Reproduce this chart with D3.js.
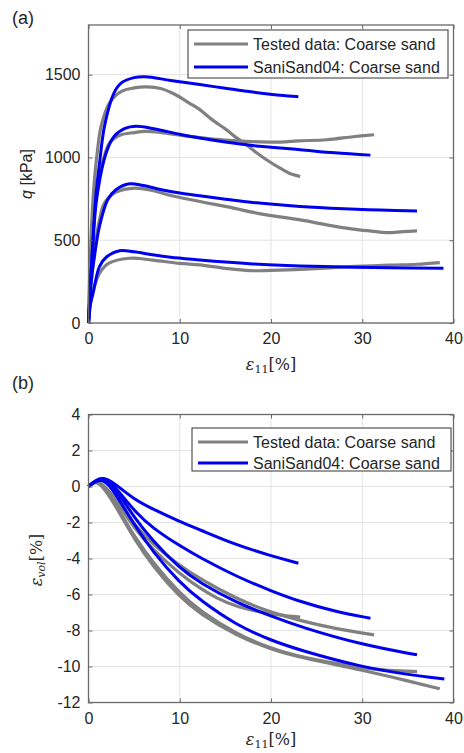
<!DOCTYPE html>
<html>
<head>
<meta charset="utf-8">
<script src="https://cdn.jsdelivr.net/npm/d3@7"></script>
<style>
  body { margin: 0; background: #fff; }
  text { font-family: "Liberation Sans", Arial, sans-serif; fill: #262626; }
</style>
</head>
<body>
<script>
// ---- data: [eps11 %, value] ----
var xTicks = [0, 10, 20, 30, 40];
var qTicks = [0, 500, 1000, 1500];
var volTicks = [-12, -10, -8, -6, -4, -2, 0, 2, 4];
var legendLabels = ["Tested data: Coarse sand", "SaniSand04: Coarse sand"];

// (a) deviatoric stress q [kPa]
var qTest1 = [[0,0],[0.2,400],[0.54,784],[1.0,1050],[1.38,1188],[2.3,1329],[3.6,1399],[5,1420],[6.4,1426],[8,1415],[9.5,1380],[11,1330],[12.2,1289],[13.5,1230],[15.1,1168],[16.3,1115],[17.3,1077],[18.5,1025],[19.5,986],[21,935],[22,905],[23.2,885]];
var qTest2 = [[0,0],[0.3,400],[0.7,700],[1.38,925],[2.3,1087],[3.5,1135],[5,1150],[6.2,1157],[8,1150],[10,1135],[12.2,1120],[15,1105],[17.3,1097],[21,1093],[23,1100],[26.1,1107],[29,1125],[31.3,1137]];
var qTest3 = [[0,0],[0.3,250],[0.7,450],[1.2,623],[1.75,724],[3,790],[5.1,815],[7,800],[9,770],[12.2,734],[15.9,694],[17,680],[19.5,653],[23.2,623],[26.1,593],[29,567],[31,555],[32.7,546],[34.5,552],[36,556]];
var qTest4 = [[0,0],[0.2,110],[0.44,180],[1.2,300],[2.2,360],[4.5,391],[7,380],[10,360],[12.2,351],[15,330],[17.7,316],[20,318],[23.2,324],[26,332],[28.6,341],[33,350],[36,355],[38.5,365]];

var qModel1 = [[0,0],[0.4,420],[0.83,784],[1.2,960],[1.75,1188],[2.8,1390],[3.6,1450],[5,1482],[6.2,1488],[9,1465],[12.2,1440],[15,1418],[18,1395],[21,1376],[23,1367]];
var qModel2 = [[0,0],[0.4,400],[0.9,750],[1.93,1027],[2.8,1127],[4,1175],[5.2,1188],[7,1175],[10,1140],[12.2,1117],[15,1093],[18,1072],[20,1062],[23.2,1047],[27,1028],[30.9,1014]];
var qModel3 = [[0,0],[0.3,250],[0.6,381],[1.2,583],[2.1,744],[3,805],[4.5,841],[6,830],[8,805],[10,785],[12.2,768],[15,748],[18,728],[23.2,704],[28,690],[32,682],[36,677]];
var qModel4 = [[0,0],[0.2,110],[0.5,180],[1.2,341],[2,400],[3.4,437],[5,430],[7,412],[9,397],[12.2,381],[15,368],[18,357],[23.2,345],[28,338],[33,334],[38.9,331]];

// (b) volumetric strain [%]
var volTest1 = [[0,0],[0.7,0.33],[1.5,0.15],[2.5,-0.45],[3.5,-1.15],[5,-2.3],[7,-3.5],[10,-4.85],[12.2,-5.65],[14,-6.2],[16.2,-6.7],[20,-7.1],[23.2,-7.26]];
var volTest2 = [[0,0],[0.7,0.33],[1.5,0.15],[2.5,-0.4],[3.5,-1.05],[5,-2.1],[7,-3.2],[10,-4.4],[12.2,-5.13],[16.2,-6.24],[20,-7.0],[23.2,-7.45],[27,-7.9],[31.3,-8.24]];
var volTest3 = [[0,0],[0.7,0.33],[1.5,0.1],[2.5,-0.6],[3.5,-1.45],[5,-2.75],[7,-4.2],[10,-5.95],[12.2,-6.9],[16.2,-8.2],[20,-9.0],[23.2,-9.48],[30,-10.1],[33,-10.22],[36,-10.28]];
var volTest4 = [[0,0],[0.7,0.3],[1.5,0.05],[2.5,-0.7],[3.5,-1.55],[5,-2.9],[7,-4.4],[10,-6.15],[12.2,-7.07],[16.2,-8.28],[20,-9.05],[23.2,-9.5],[30,-10.2],[35,-10.8],[38.5,-11.24]];

var volModel1 = [[0,0],[0.8,0.35],[1.6,0.5],[2.5,0.3],[3.5,-0.1],[5,-0.7],[7,-1.25],[10,-1.95],[12.2,-2.4],[15.9,-3.2],[20,-3.85],[23,-4.26]];
var volModel2 = [[0,0],[0.8,0.35],[1.6,0.5],[2.5,0.2],[3.5,-0.4],[5.2,-1.45],[7,-2.3],[10,-3.3],[12.2,-3.95],[16.2,-5.0],[20,-5.8],[23.2,-6.4],[27,-6.95],[30.9,-7.32]];
var volModel3 = [[0,0],[0.8,0.3],[1.5,0.45],[2.5,0.1],[3.5,-0.55],[5,-1.7],[7,-3.0],[10,-4.55],[12.2,-5.35],[16.2,-6.45],[20,-7.2],[23.2,-7.8],[30,-8.8],[36,-9.35]];
var volModel4 = [[0,0],[0.8,0.3],[1.5,0.4],[2.5,-0.05],[3.5,-0.85],[5,-2.1],[7,-3.6],[10,-5.35],[12.2,-6.3],[16.2,-7.7],[20,-8.55],[23.2,-9.1],[30,-10.04],[35,-10.45],[39,-10.7]];

var grey = "#808080", blue = "#0000ee";

var W = 464, H = 753;
var svg = d3.select("body").append("svg")
    .attr("width", W)
    .attr("height", H);

var axL = 88.5, axR = 453.5; // shared x extent of both axes

/*
  draws one boxed MATLAB-style panel
  p: {top, bottom, yDomain, yTicks, tests, models, legend box, label}
*/
var drawPanel = function(p){
    var x = d3.scaleLinear().domain([0, 40]).range([axL, axR]);
    var y = d3.scaleLinear().domain(p.yDomain).range([p.bottom, p.top]);
    var g = svg.append("g");

    // grid
    g.selectAll(".gx").data(xTicks).enter().append("line")
        .attr("x1", function(d){ return x(d); }).attr("x2", function(d){ return x(d); })
        .attr("y1", p.top).attr("y2", p.bottom)
        .attr("stroke", "#e3e3e3").attr("stroke-width", 1);
    g.selectAll(".gy").data(p.yTicks).enter().append("line")
        .attr("x1", axL).attr("x2", axR)
        .attr("y1", function(d){ return y(d); }).attr("y2", function(d){ return y(d); })
        .attr("stroke", "#e3e3e3").attr("stroke-width", 1);

    // curves
    var line = d3.line()
        .x(function(d){ return x(d[0]); })
        .y(function(d){ return y(d[1]); })
        .curve(p.curve);
    p.tests.forEach(function(s){
        g.append("path").attr("d", line(s)).attr("fill", "none")
            .attr("stroke", grey).attr("stroke-width", 3.2).attr("stroke-linejoin", "round");
    });
    p.models.forEach(function(s){
        g.append("path").attr("d", line(s)).attr("fill", "none")
            .attr("stroke", blue).attr("stroke-width", 3).attr("stroke-linejoin", "round");
    });

    // box + inner ticks on all sides
    var axisCol = "#6a6a6a";
    g.append("rect").attr("x", axL).attr("y", p.top)
        .attr("width", axR - axL).attr("height", p.bottom - p.top)
        .attr("fill", "none").attr("stroke", axisCol).attr("stroke-width", 1.3);
    var fmt = function(d){ return String(d); };
    var bottomAx = d3.axisBottom(x).tickValues(xTicks).tickFormat(fmt).tickSizeInner(-4).tickSizeOuter(0).tickPadding(10);
    var topAx = d3.axisTop(x).tickValues(xTicks).tickSizeInner(-4).tickSizeOuter(0).tickFormat("");
    var leftAx = d3.axisLeft(y).tickValues(p.yTicks).tickFormat(fmt).tickSizeInner(-4).tickSizeOuter(0).tickPadding(8);
    var rightAx = d3.axisRight(y).tickValues(p.yTicks).tickSizeInner(-4).tickSizeOuter(0).tickFormat("");
    [[bottomAx, "translate(0," + p.bottom + ")"], [topAx, "translate(0," + p.top + ")"],
     [leftAx, "translate(" + axL + ",0)"], [rightAx, "translate(" + axR + ",0)"]].forEach(function(a){
        var ag = g.append("g").attr("transform", a[1]).call(a[0]);
        ag.select(".domain").remove();
        ag.selectAll(".tick line").attr("stroke", axisCol);
        ag.selectAll("text").attr("font-size", 16)
            .attr("font-family", "'Liberation Sans', Arial, sans-serif").attr("fill", "#262626");
    });

    // x label: eps_11[%]
    var xl = g.append("text").attr("x", (axL + axR) / 2).attr("y", p.xLabelY)
        .attr("text-anchor", "middle")
        .style("font-family", "'DejaVu Serif', 'Liberation Serif', serif").attr("font-size", 16);
    xl.append("tspan").text("\u03b5").attr("font-style", "italic");
    xl.append("tspan").text("11").attr("font-size", 11).attr("dy", 3);
    xl.append("tspan").text("[%]").attr("dy", -3);

    // panel letter
    svg.append("text").attr("x", 12).attr("y", p.letterY)
        .attr("font-size", 18).text(p.letter);

    // legend
    var lg = svg.append("g");
    lg.append("rect").attr("x", p.leg[0]).attr("y", p.leg[1])
        .attr("width", p.leg[2]).attr("height", p.leg[3])
        .attr("fill", "#fff").attr("stroke", "#333").attr("stroke-width", 1);
    [grey, blue].forEach(function(c, i){
        var ry = p.legRows[i];
        lg.append("line").attr("x1", p.leg[0] + 6).attr("x2", 248)
            .attr("y1", ry).attr("y2", ry)
            .attr("stroke", c).attr("stroke-width", 3.2);
        lg.append("text").attr("x", 253).attr("y", ry).attr("dy", "0.36em")
            .attr("font-size", 16).text(legendLabels[i]);
    });
    return {x: x, y: y};
};

drawPanel({
    top: 25, bottom: 323, yDomain: [0, 1800], yTicks: qTicks,
    tests: [qTest1, qTest2, qTest3, qTest4],
    models: [qModel1, qModel2, qModel3, qModel4],
    curve: d3.curveCatmullRom.alpha(0.5),
    leg: [188, 30, 260, 48], legRows: [44, 67],
    xLabelY: 370, letter: "(a)", letterY: 24
});

drawPanel({
    top: 414.5, bottom: 702.5, yDomain: [-12, 4], yTicks: volTicks,
    tests: [volTest1, volTest2, volTest3, volTest4],
    models: [volModel1, volModel2, volModel3, volModel4],
    curve: d3.curveBasis,
    leg: [192, 428, 259, 43], legRows: [442, 463],
    xLabelY: 745, letter: "(b)", letterY: 389
});

// y labels
var yl1 = svg.append("text")
    .attr("transform", "translate(32,174) rotate(-90)")
    .attr("text-anchor", "middle").attr("font-size", 16);
yl1.append("tspan").text("q").attr("font-style", "italic");
yl1.append("tspan").text(" [kPa]");

var yl2 = svg.append("text")
    .attr("transform", "translate(42,560) rotate(-90)")
    .attr("text-anchor", "middle")
    .style("font-family", "'DejaVu Serif', 'Liberation Serif', serif").attr("font-size", 16);
yl2.append("tspan").text("\u03b5").attr("font-style", "italic");
yl2.append("tspan").text("vol").attr("font-style", "italic").attr("font-size", 11).attr("dy", 3);
yl2.append("tspan").text("[%]").attr("dy", -3);
</script>
</body>
</html>
